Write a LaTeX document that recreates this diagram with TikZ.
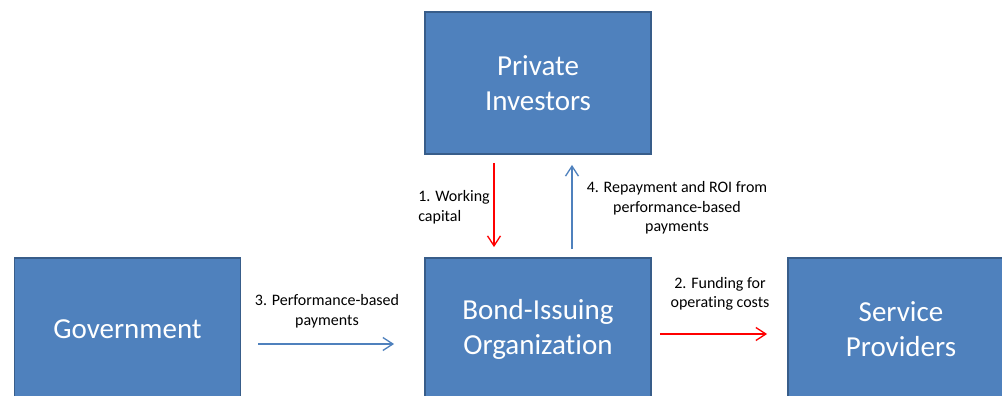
\documentclass[tikz,border=0pt]{standalone}
\usepackage{fontspec}
\setmainfont{Carlito}[Ligatures=NoCommon]
\usetikzlibrary{arrows.meta}
\definecolor{boxblue}{HTML}{4F81BD}
\definecolor{boxedge}{HTML}{385D8A}
\definecolor{flowred}{HTML}{FF0000}
\begin{document}
\begin{tikzpicture}[x=0.02cm,y=-0.02cm,
    party/.style={rectangle,fill=boxblue,draw=boxedge,line width=1.1pt,
      minimum width=4.52cm,minimum height=2.84cm,text=white,align=center,
      font=\fontsize{16.5}{19.9}\selectfont},
    flowlabel/.style={inner sep=0pt,align=center,font=\fontsize{9.1}{11.1}\selectfont},
    cashflow/.style={line width=0.75pt,-{Straight Barb[length=0.2cm,width=0.26cm]}}]
  \useasboundingbox (0,0) rectangle (1002,396);
  % the four parties
  \node[party] (inv) at (538,83) {Private\\Investors};
  \node[party] (gov) at (127.5,329) {Government};
  \node[party] (bond) at (538,329) {Bond-Issuing\\Organization};
  \node[party] (prov) at (901,329) {Service\\Providers};
  % money flows
  \draw[cashflow,flowred,shorten <=0.16cm,shorten >=0.2cm]
    ([xshift=-0.88cm]inv.south) -- ([xshift=-0.88cm]bond.north);
  \draw[cashflow,boxblue,shorten <=0.16cm,shorten >=0.2cm]
    ([xshift=0.68cm]bond.north) -- ([xshift=0.68cm]inv.south);
  \draw[cashflow,boxblue,shorten <=0.34cm,shorten >=0.6cm]
    ([yshift=-0.3cm]gov.east) -- ([yshift=-0.3cm]bond.west);
  \draw[cashflow,flowred,shorten <=0.16cm,shorten >=0.4cm]
    ([yshift=-0.1cm]bond.east) -- ([yshift=-0.1cm]prov.west);
  % labels
  \node[flowlabel,align=left,anchor=west] (lbl1) at (418,207) {1. Working\\capital};
  \node[flowlabel] (lbl2) at (720,294) {2. Funding for\\operating costs};
  \node[flowlabel] (lbl3) at (327,311) {3. Performance-based\\payments};
  \node[flowlabel] (lbl4) at (677,208) {4. Repayment and ROI from\\performance-based\\payments};
\end{tikzpicture}
\end{document}
